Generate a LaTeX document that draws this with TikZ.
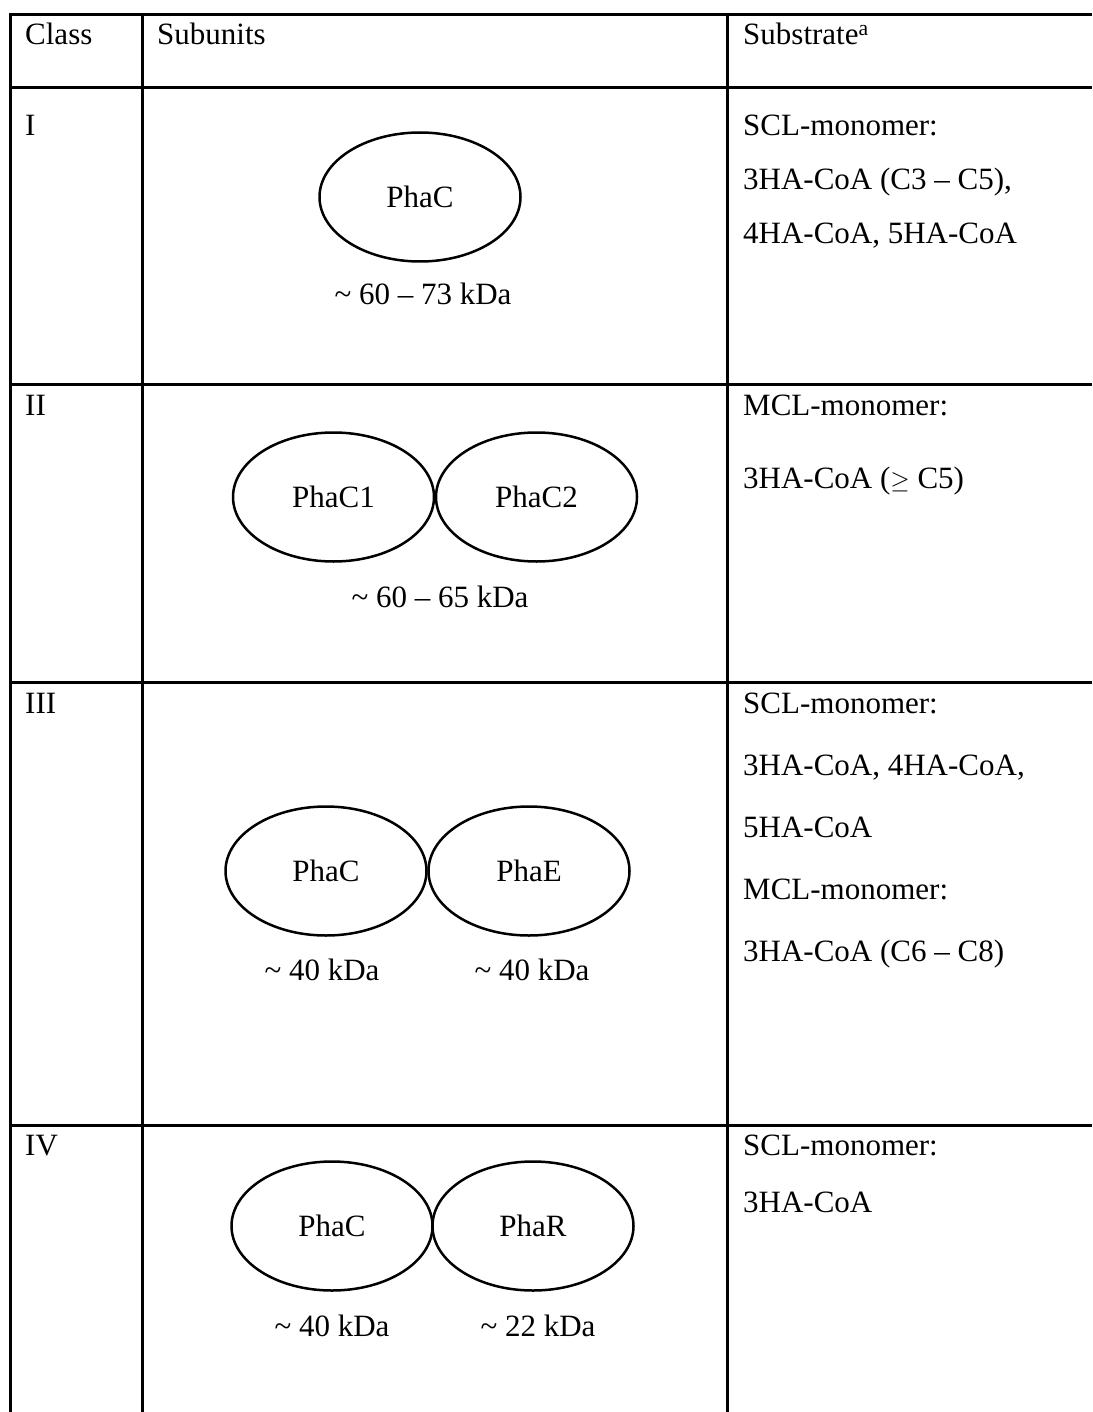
\documentclass[tikz,border=0pt]{standalone}
\usepackage{fontspec}
\setmainfont{Liberation Serif}
\usetikzlibrary{shapes.geometric}
\newcommand\tabfont{\fontsize{31}{37}\selectfont}
\begin{document}
\begin{tikzpicture}[x=1pt,y=-1pt,
  rule/.style={line width=3pt},
  subunit/.style={draw, ellipse, line width=2.5pt, minimum width=201pt, minimum height=129pt, inner sep=0pt, font=\tabfont},
  txt/.style={anchor=base west, inner sep=0pt, font=\tabfont},
  kda/.style={anchor=base, inner sep=0pt, font=\tabfont}]
\useasboundingbox (0,0) rectangle (1092,1412);
% table rules
\draw[rule] (1092,15) -- (10,15) -- (10,1412);
\draw[rule] (142,15) -- (142,1412);
\draw[rule] (727,15) -- (727,1412);
\draw[rule] (10,88) -- (1092,88);
\draw[rule] (10,384) -- (1092,384);
\draw[rule] (10,682) -- (1092,682);
\draw[rule] (10,1125) -- (1092,1125);
% header
\node[txt] (hclass) at (25,45) {Class};
\node[txt] (hsub) at (157,45) {Subunits};
\node[txt] (hsubstr) at (743,45) {Substrate\textsuperscript{a}};
% row I
\node[txt] (c1) at (25,136) {I};
\node[subunit] (e1) at (420,197) {PhaC};
\node[kda] (k1) at (423,305) {\textasciitilde{} 60 -- 73 kDa};
\node[txt] (s1a) at (743,136) {SCL-monomer:};
\node[txt] (s1b) at (743,190) {3HA-CoA (C3 -- C5),};
\node[txt] (s1c) at (743,244) {4HA-CoA, 5HA-CoA};
% row II
\node[txt] (c2) at (25,415) {II};
\node[subunit] (e2a) at (333.5,497) {PhaC1};
\node[subunit] (e2b) at (536.5,497) {PhaC2};
\node[kda] (k2) at (440,607) {\textasciitilde{} 60 -- 65 kDa};
\node[txt] (s2a) at (743,415) {MCL-monomer:};
\node[txt] (s2b) at (743,488) {3HA-CoA ($\geq$ C5)};
% row III
\node[txt] (c3) at (25,713) {III};
\node[subunit] (e3a) at (326,871) {PhaC};
\node[subunit] (e3b) at (529,871) {PhaE};
\node[kda] (k3a) at (322,980) {\textasciitilde{} 40 kDa};
\node[kda] (k3b) at (532,980) {\textasciitilde{} 40 kDa};
\node[txt] (s3a) at (743,713) {SCL-monomer:};
\node[txt] (s3b) at (743,775) {3HA-CoA, 4HA-CoA,};
\node[txt] (s3c) at (743,837) {5HA-CoA};
\node[txt] (s3d) at (743,899) {MCL-monomer:};
\node[txt] (s3e) at (743,961) {3HA-CoA (C6 -- C8)};
% row IV
\node[txt] (c4) at (25,1155) {IV};
\node[subunit] (e4a) at (332,1226) {PhaC};
\node[subunit] (e4b) at (533,1226) {PhaR};
\node[kda] (k4a) at (332,1336) {\textasciitilde{} 40 kDa};
\node[kda] (k4b) at (538,1336) {\textasciitilde{} 22 kDa};
\node[txt] (s4a) at (743,1155) {SCL-monomer:};
\node[txt] (s4b) at (743,1212) {3HA-CoA};
\end{tikzpicture}
\end{document}
